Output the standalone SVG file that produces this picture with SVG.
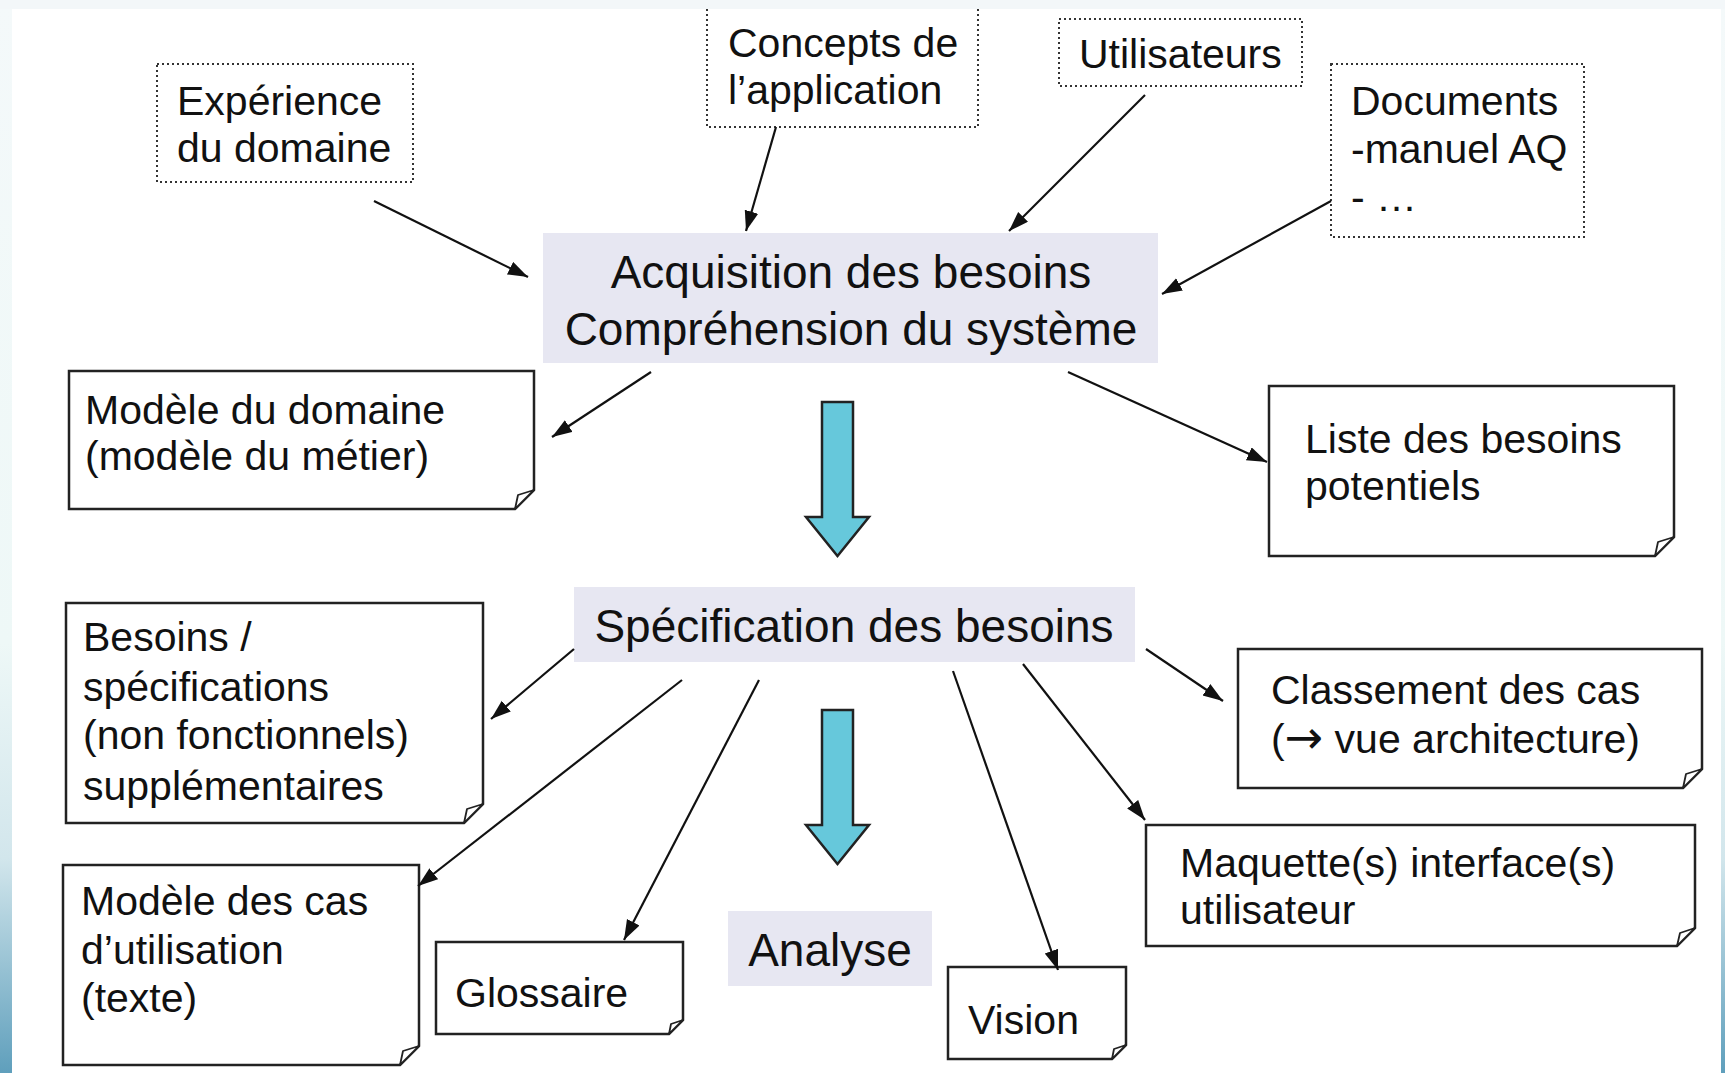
<svg xmlns="http://www.w3.org/2000/svg" width="1725" height="1073" viewBox="0 0 1725 1073">
<style>
  .t { font-family: "Liberation Sans", Arial, sans-serif; font-size: 41px; fill: #111; }
  .tb { font-family: "Liberation Sans", Arial, sans-serif; font-size: 46px; fill: #111; }
  .sym { font-family: "DejaVu Sans", sans-serif; font-size: 46px; }
  .dot { fill: none; stroke: #333; stroke-width: 2; stroke-dasharray: 2 3; }
  .note { fill: #fff; stroke: #222; stroke-width: 2.5; }
  .fold { fill: #fff; stroke: #222; stroke-width: 1.8; stroke-linejoin: round; }
  .panel { fill: #e7e7f2; }
  .big { fill: #66c8db; stroke: #222; stroke-width: 2.5; }
  .con { stroke: #111; stroke-width: 2.2; fill: none; marker-end: url(#ah); }
</style>
<defs>
  <linearGradient id="side" x1="0" y1="0" x2="0" y2="1">
    <stop offset="0" stop-color="#f4f9fa"/>
    <stop offset="0.6" stop-color="#eef8f7"/>
    <stop offset="0.8" stop-color="#d2e6ec"/>
    <stop offset="1" stop-color="#5f9fbc"/>
  </linearGradient>
  <marker id="ah" markerUnits="userSpaceOnUse" markerWidth="22" markerHeight="16" refX="20" refY="7" orient="auto">
    <path d="M0,0 L20,7 L0,14 z" fill="#111"/>
  </marker>
</defs>

<rect x="0" y="0" width="1725" height="1073" fill="url(#side)"/>
<rect x="0" y="0" width="1725" height="9" fill="#f3f7f9"/>
<rect x="12" y="9" width="1709" height="1064" fill="#ffffff"/>

<g id="experience">
  <rect class="dot" x="157" y="64" width="256" height="118"/>
  <text class="t" x="177" y="115">Expérience</text>
  <text class="t" x="177" y="162">du domaine</text>
</g>

<g id="concepts">
  <path class="dot" d="M707,9 V127 H978 V9"/>
  <text class="t" x="728" y="57">Concepts de</text>
  <text class="t" x="728" y="104">l’application</text>
</g>

<g id="utilisateurs">
  <rect class="dot" x="1059" y="19" width="243" height="67"/>
  <text class="t" x="1079" y="68">Utilisateurs</text>
</g>

<g id="documents">
  <rect class="dot" x="1331" y="64" width="253" height="173"/>
  <text class="t" x="1351" y="115">Documents</text>
  <text class="t" x="1351" y="163">-manuel AQ</text>
  <text class="t" x="1351" y="211">- …</text>
</g>

<g id="acquisition">
  <rect class="panel" x="543" y="233" width="615" height="130"/>
  <text class="tb" x="851" y="288" text-anchor="middle">Acquisition des besoins</text>
  <text class="tb" x="851" y="345" text-anchor="middle">Compréhension du système</text>
</g>

<g id="modele-domaine">
  <path class="note" d="M69,371 H534 V490 L515,509 H69 Z"/>
  <path class="fold" d="M534,490 L518,495 L515,509 Z"/>
  <text class="t" x="85" y="424">Modèle du domaine</text>
  <text class="t" x="85" y="470">(modèle du métier)</text>
</g>

<g id="liste-besoins">
  <path class="note" d="M1269,386 H1674 V537 L1655,556 H1269 Z"/>
  <path class="fold" d="M1674,537 L1658,542 L1655,556 Z"/>
  <text class="t" x="1305" y="453">Liste des besoins</text>
  <text class="t" x="1305" y="500">potentiels</text>
</g>

<g id="fleche-1">
  <path class="big" d="M822,402 H853 V517 H869 L837.5,556 L806,517 H822 Z"/>
</g>

<g id="specification">
  <rect class="panel" x="574" y="587" width="561" height="75"/>
  <text class="tb" x="854" y="642" text-anchor="middle">Spécification des besoins</text>
</g>

<g id="besoins-specs">
  <path class="note" d="M66,603 H483 V804 L464,823 H66 Z"/>
  <path class="fold" d="M483,804 L467,809 L464,823 Z"/>
  <text class="t" x="83" y="651">Besoins /</text>
  <text class="t" x="83" y="701">spécifications</text>
  <text class="t" x="83" y="749">(non fonctionnels)</text>
  <text class="t" x="83" y="800">supplémentaires</text>
</g>

<g id="classement">
  <path class="note" d="M1238,649 H1702 V769 L1683,788 H1238 Z"/>
  <path class="fold" d="M1702,769 L1686,774 L1683,788 Z"/>
  <text class="t" x="1271" y="704">Classement des cas</text>
  <text class="t" x="1271" y="753">(<tspan class="sym">→</tspan> vue architecture)</text>
</g>

<g id="maquette">
  <path class="note" d="M1146,825 H1695 V928 L1677,946 H1146 Z"/>
  <path class="fold" d="M1695,928 L1680,933 L1677,946 Z"/>
  <text class="t" x="1180" y="877">Maquette(s) interface(s)</text>
  <text class="t" x="1180" y="924">utilisateur</text>
</g>

<g id="fleche-2">
  <path class="big" d="M822,710 H853 V825 H869 L837.5,864 L806,825 H822 Z"/>
</g>

<g id="modele-cas">
  <path class="note" d="M63,865 H419 V1046 L400,1065 H63 Z"/>
  <path class="fold" d="M419,1046 L403,1051 L400,1065 Z"/>
  <text class="t" x="81" y="915">Modèle des cas</text>
  <text class="t" x="81" y="964">d’utilisation</text>
  <text class="t" x="81" y="1012">(texte)</text>
</g>

<g id="glossaire">
  <path class="note" d="M436,942 H683 V1020 L669,1034 H436 Z"/>
  <path class="fold" d="M683,1020 L671,1024 L669,1034 Z"/>
  <text class="t" x="455" y="1007">Glossaire</text>
</g>

<g id="analyse">
  <rect class="panel" x="728" y="911" width="204" height="75"/>
  <text class="tb" x="830" y="966" text-anchor="middle">Analyse</text>
</g>

<g id="vision">
  <path class="note" d="M948,967 H1126 V1045 L1112,1059 H948 Z"/>
  <path class="fold" d="M1126,1045 L1114,1049 L1112,1059 Z"/>
  <text class="t" x="968" y="1034">Vision</text>
</g>

<g id="connecteurs">
  <line class="con" x1="374" y1="201" x2="528" y2="277"/>
  <line class="con" x1="776" y1="127" x2="746" y2="231"/>
  <line class="con" x1="1145" y1="95" x2="1009" y2="231"/>
  <line class="con" x1="1331" y1="201" x2="1162" y2="294"/>
  <line class="con" x1="651" y1="372" x2="552" y2="437"/>
  <line class="con" x1="1068" y1="372" x2="1267" y2="462"/>
  <line class="con" x1="574" y1="649" x2="491" y2="719"/>
  <line class="con" x1="682" y1="680" x2="418" y2="886"/>
  <line class="con" x1="759" y1="680" x2="624" y2="940"/>
  <line class="con" x1="953" y1="671" x2="1058" y2="970"/>
  <line class="con" x1="1023" y1="664" x2="1145" y2="820"/>
  <line class="con" x1="1146" y1="649" x2="1223" y2="701"/>
</g>
</svg>
